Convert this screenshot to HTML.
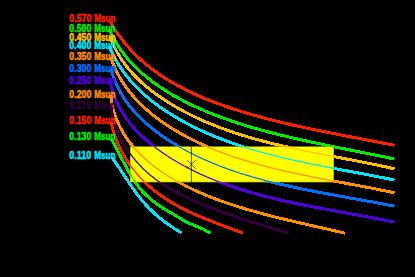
<!DOCTYPE html>
<html><head><meta charset="utf-8"><title>plot</title>
<style>
html,body{margin:0;padding:0;background:#000;}
body{width:415px;height:277px;overflow:hidden;font-family:"Liberation Sans",sans-serif;}
svg{display:block}
text{font-family:"Liberation Sans",sans-serif;font-size:10.2px;font-weight:bold;text-anchor:start;stroke-width:0.5px;stroke-linejoin:round;}
</style></head><body>
<svg width="415" height="277" viewBox="0 0 415 277">
<rect width="415" height="277" fill="#000"/>
<defs><clipPath id="bx"><rect x="130.0" y="146.4" width="204.0" height="35.9"/></clipPath></defs>
<defs><g id="cv" fill="none" stroke-linejoin="round" stroke-linecap="butt">
<path d="M110.4,21.8 L110.9,22.7 L111.4,23.6 L111.9,24.5 L112.5,25.4 L113.0,26.3 L113.5,27.2 L114.1,28.1 L114.6,28.9 L115.2,29.8 L115.7,30.6 L116.3,31.5 L116.9,32.3 L117.4,33.2 L118.0,34.0 L118.6,34.9 L119.2,35.7 L119.8,36.5 L120.4,37.3 L121.0,38.1 L121.6,38.9 L122.2,39.7 L122.8,40.5 L123.4,41.3 L124.1,42.1 L124.7,42.9 L125.3,43.6 L126.0,44.4 L126.6,45.2 L127.3,45.9 L127.9,46.7 L128.6,47.4 L129.2,48.2 L129.9,48.9 L130.6,49.6 L131.2,50.4 L131.9,51.1 L132.6,51.8 L133.3,52.5 L134.0,53.2 L134.7,53.9 L135.4,54.6 L136.1,55.3 L136.8,56.0 L137.5,56.7 L138.2,57.4 L138.9,58.0 L139.7,58.7 L140.4,59.4 L141.1,60.0 L141.8,60.7 L142.6,61.3 L143.3,62.0 L144.1,62.6 L144.8,63.3 L145.6,63.9 L146.3,64.5 L147.1,65.1 L147.8,65.8 L148.6,66.4 L149.4,67.0 L150.2,67.6 L150.9,68.2 L151.7,68.8 L152.5,69.4 L153.3,70.0 L154.1,70.6 L154.9,71.2 L155.7,71.7 L156.5,72.3 L157.3,72.9 L158.1,73.4 L158.9,74.0 L159.7,74.6 L160.5,75.1 L161.3,75.7 L162.1,76.2 L163.0,76.7 L163.8,77.3 L164.6,77.8 L165.4,78.3 L166.3,78.9 L167.1,79.4 L167.9,79.9 L168.8,80.4 L169.6,80.9 L170.5,81.4 L171.3,82.0 L172.2,82.5 L173.0,82.9 L173.9,83.4 L174.8,83.9 L175.6,84.4 L176.5,84.9 L177.3,85.4 L178.2,85.9 L179.1,86.3 L180.0,86.8 L180.8,87.3 L181.7,87.7 L182.6,88.2 L183.5,88.6 L184.4,89.1 L185.2,89.5 L186.1,90.0 L187.0,90.4 L187.9,90.9 L188.8,91.3 L189.7,91.7 L190.6,92.2 L191.5,92.6 L192.4,93.0 L193.3,93.4 L194.2,93.8 L195.1,94.3 L196.0,94.7 L196.9,95.1 L197.9,95.5 L198.8,95.9 L199.7,96.3 L200.6,96.7 L201.5,97.1 L202.4,97.5 L203.4,97.9 L204.3,98.2 L205.2,98.6 L206.1,99.0 L207.1,99.4 L208.0,99.8 L208.9,100.1 L209.9,100.5 L210.8,100.9 L211.7,101.2 L212.7,101.6 L213.6,102.0 L214.6,102.3 L215.5,102.7 L216.4,103.0 L217.4,103.4 L218.3,103.7 L219.3,104.1 L220.2,104.4 L221.2,104.8 L222.1,105.1 L223.1,105.4 L224.0,105.8 L225.0,106.1 L225.9,106.4 L226.9,106.8 L227.8,107.1 L228.8,107.4 L229.7,107.7 L230.7,108.0 L231.7,108.4 L232.6,108.7 L233.6,109.0 L234.5,109.3 L235.5,109.6 L236.4,109.9 L237.4,110.2 L238.4,110.5 L239.3,110.8 L240.3,111.1 L241.3,111.4 L242.2,111.7 L243.2,112.0 L244.2,112.3 L245.1,112.6 L246.1,112.9 L247.1,113.2 L248.0,113.5 L249.0,113.8 L250.0,114.0 L250.9,114.3 L251.9,114.6 L252.9,114.9 L253.8,115.2 L254.8,115.4 L255.8,115.7 L256.7,116.0 L257.7,116.2 L258.7,116.5 L259.7,116.8 L260.6,117.1 L261.6,117.3 L262.6,117.6 L263.6,117.8 L264.5,118.1 L265.5,118.4 L266.5,118.6 L267.5,118.9 L268.4,119.1 L269.4,119.4 L270.4,119.6 L271.4,119.9 L272.4,120.1 L273.3,120.4 L274.3,120.6 L275.3,120.9 L276.3,121.1 L277.2,121.3 L278.2,121.6 L279.2,121.8 L280.2,122.1 L281.2,122.3 L282.2,122.5 L283.1,122.8 L284.1,123.0 L285.1,123.2 L286.1,123.5 L287.1,123.7 L288.0,123.9 L289.0,124.2 L290.0,124.4 L291.0,124.6 L292.0,124.8 L293.0,125.1 L293.9,125.3 L294.9,125.5 L295.9,125.7 L296.9,125.9 L297.9,126.2 L298.9,126.4 L299.8,126.6 L300.8,126.8 L301.8,127.0 L302.8,127.2 L303.8,127.4 L304.8,127.7 L305.8,127.9 L306.7,128.1 L307.7,128.3 L308.7,128.5 L309.7,128.7 L310.7,128.9 L311.7,129.1 L312.6,129.3 L313.6,129.5 L314.6,129.7 L315.6,129.9 L316.6,130.1 L317.6,130.3 L318.6,130.5 L319.5,130.7 L320.5,130.9 L321.5,131.1 L322.5,131.3 L323.5,131.5 L324.5,131.7 L325.4,131.9 L326.4,132.1 L327.4,132.3 L328.4,132.5 L329.4,132.7 L330.4,132.9 L331.4,133.1 L332.3,133.3 L333.3,133.5 L334.3,133.7 L335.3,133.9 L336.3,134.1 L337.3,134.3 L338.2,134.5 L339.2,134.6 L340.2,134.8 L341.2,135.0 L342.2,135.2 L343.2,135.4 L344.1,135.6 L345.1,135.8 L346.1,136.0 L347.1,136.2 L348.1,136.3 L349.0,136.5 L350.0,136.7 L351.0,136.9 L352.0,137.1 L353.0,137.3 L353.9,137.5 L354.9,137.7 L355.9,137.8 L356.9,138.0 L357.8,138.2 L358.8,138.4 L359.8,138.6 L360.8,138.8 L361.8,139.0 L362.7,139.1 L363.7,139.3 L364.7,139.5 L365.7,139.7 L366.6,139.9 L367.6,140.1 L368.6,140.3 L369.5,140.4 L370.5,140.6 L371.5,140.8 L372.5,141.0 L373.4,141.2 L374.4,141.4 L375.4,141.6 L376.3,141.8 L377.3,141.9 L378.3,142.1 L379.3,142.3 L380.2,142.5 L381.2,142.7 L382.2,142.9 L383.1,143.1 L384.1,143.3 L385.1,143.4 L386.0,143.6 L387.0,143.8 L387.9,144.0 L388.9,144.2 L389.9,144.4 L390.8,144.6 L391.8,144.8 L392.8,145.0 L393.7,145.2 L394.5,145.3" stroke="#ff2000"/>
<path d="M109.5,29.5 L109.9,30.4 L110.3,31.3 L110.7,32.3 L111.1,33.2 L111.6,34.1 L112.0,35.0 L112.5,36.0 L112.9,36.9 L113.4,37.8 L113.9,38.7 L114.4,39.6 L114.9,40.4 L115.4,41.3 L115.9,42.2 L116.4,43.0 L116.9,43.9 L117.4,44.8 L118.0,45.6 L118.5,46.4 L119.1,47.3 L119.6,48.1 L120.2,48.9 L120.8,49.8 L121.3,50.6 L121.9,51.4 L122.5,52.2 L123.1,53.0 L123.7,53.8 L124.3,54.6 L124.9,55.4 L125.5,56.1 L126.2,56.9 L126.8,57.7 L127.4,58.4 L128.1,59.2 L128.7,59.9 L129.4,60.7 L130.0,61.4 L130.7,62.2 L131.4,62.9 L132.1,63.6 L132.7,64.3 L133.4,65.0 L134.1,65.8 L134.8,66.5 L135.5,67.2 L136.2,67.9 L137.0,68.6 L137.7,69.2 L138.4,69.9 L139.1,70.6 L139.9,71.3 L140.6,71.9 L141.3,72.6 L142.1,73.3 L142.8,73.9 L143.6,74.6 L144.3,75.2 L145.1,75.8 L145.9,76.5 L146.6,77.1 L147.4,77.7 L148.2,78.4 L149.0,79.0 L149.8,79.6 L150.6,80.2 L151.3,80.8 L152.1,81.4 L152.9,82.0 L153.7,82.6 L154.5,83.2 L155.4,83.8 L156.2,84.3 L157.0,84.9 L157.8,85.5 L158.6,86.0 L159.4,86.6 L160.3,87.2 L161.1,87.7 L161.9,88.3 L162.8,88.8 L163.6,89.4 L164.4,89.9 L165.3,90.4 L166.1,91.0 L167.0,91.5 L167.8,92.0 L168.7,92.5 L169.5,93.0 L170.4,93.6 L171.2,94.1 L172.1,94.6 L172.9,95.1 L173.8,95.6 L174.7,96.1 L175.5,96.6 L176.4,97.0 L177.3,97.5 L178.1,98.0 L179.0,98.5 L179.9,99.0 L180.7,99.4 L181.6,99.9 L182.5,100.3 L183.4,100.8 L184.3,101.3 L185.1,101.7 L186.0,102.2 L186.9,102.6 L187.8,103.1 L188.7,103.5 L189.6,103.9 L190.5,104.4 L191.4,104.8 L192.2,105.2 L193.1,105.7 L194.0,106.1 L194.9,106.5 L195.8,106.9 L196.7,107.3 L197.6,107.7 L198.5,108.1 L199.4,108.5 L200.4,108.9 L201.3,109.3 L202.2,109.7 L203.1,110.1 L204.0,110.5 L204.9,110.9 L205.8,111.3 L206.7,111.7 L207.7,112.1 L208.6,112.4 L209.5,112.8 L210.4,113.2 L211.3,113.5 L212.3,113.9 L213.2,114.3 L214.1,114.6 L215.0,115.0 L216.0,115.4 L216.9,115.7 L217.8,116.1 L218.8,116.4 L219.7,116.8 L220.6,117.1 L221.6,117.5 L222.5,117.8 L223.4,118.1 L224.4,118.5 L225.3,118.8 L226.2,119.1 L227.2,119.5 L228.1,119.8 L229.1,120.1 L230.0,120.4 L231.0,120.8 L231.9,121.1 L232.9,121.4 L233.8,121.7 L234.8,122.0 L235.7,122.3 L236.7,122.7 L237.6,123.0 L238.6,123.3 L239.5,123.6 L240.5,123.9 L241.4,124.2 L242.4,124.5 L243.3,124.8 L244.3,125.1 L245.3,125.4 L246.2,125.7 L247.2,126.0 L248.1,126.2 L249.1,126.5 L250.1,126.8 L251.0,127.1 L252.0,127.4 L253.0,127.7 L253.9,127.9 L254.9,128.2 L255.9,128.5 L256.8,128.8 L257.8,129.0 L258.8,129.3 L259.7,129.6 L260.7,129.9 L261.7,130.1 L262.7,130.4 L263.6,130.7 L264.6,130.9 L265.6,131.2 L266.5,131.4 L267.5,131.7 L268.5,132.0 L269.5,132.2 L270.4,132.5 L271.4,132.7 L272.4,133.0 L273.4,133.2 L274.4,133.5 L275.3,133.7 L276.3,134.0 L277.3,134.2 L278.3,134.5 L279.3,134.7 L280.2,135.0 L281.2,135.2 L282.2,135.4 L283.2,135.7 L284.2,135.9 L285.2,136.1 L286.1,136.4 L287.1,136.6 L288.1,136.8 L289.1,137.1 L290.1,137.3 L291.1,137.5 L292.0,137.8 L293.0,138.0 L294.0,138.2 L295.0,138.5 L296.0,138.7 L297.0,138.9 L298.0,139.1 L299.0,139.3 L299.9,139.6 L300.9,139.8 L301.9,140.0 L302.9,140.2 L303.9,140.4 L304.9,140.7 L305.9,140.9 L306.9,141.1 L307.8,141.3 L308.8,141.5 L309.8,141.7 L310.8,142.0 L311.8,142.2 L312.8,142.4 L313.8,142.6 L314.8,142.8 L315.8,143.0 L316.7,143.2 L317.7,143.4 L318.7,143.6 L319.7,143.8 L320.7,144.0 L321.7,144.2 L322.7,144.5 L323.7,144.7 L324.7,144.9 L325.6,145.1 L326.6,145.3 L327.6,145.5 L328.6,145.7 L329.6,145.9 L330.6,146.1 L331.6,146.3 L332.6,146.5 L333.5,146.7 L334.5,146.9 L335.5,147.1 L336.5,147.3 L337.5,147.5 L338.5,147.7 L339.5,147.9 L340.4,148.1 L341.4,148.3 L342.4,148.5 L343.4,148.7 L344.4,148.9 L345.4,149.0 L346.3,149.2 L347.3,149.4 L348.3,149.6 L349.3,149.8 L350.3,150.0 L351.3,150.2 L352.2,150.4 L353.2,150.6 L354.2,150.8 L355.2,151.0 L356.2,151.2 L357.1,151.4 L358.1,151.6 L359.1,151.8 L360.1,152.0 L361.0,152.2 L362.0,152.4 L363.0,152.6 L364.0,152.8 L364.9,153.0 L365.9,153.1 L366.9,153.3 L367.9,153.5 L368.8,153.7 L369.8,153.9 L370.8,154.1 L371.7,154.3 L372.7,154.5 L373.7,154.7 L374.7,154.9 L375.6,155.1 L376.6,155.3 L377.6,155.5 L378.5,155.7 L379.5,155.9 L380.4,156.1 L381.4,156.3 L382.4,156.5 L383.3,156.7 L384.3,156.9 L385.3,157.1 L386.2,157.3 L387.2,157.5 L388.1,157.7 L389.1,157.9 L390.0,158.1 L391.0,158.3 L391.9,158.5 L392.9,158.7 L393.9,158.9 L394.5,159.1" stroke="#00f000"/>
<path d="M110.2,36.1 L110.5,37.1 L110.8,38.0 L111.1,39.0 L111.5,39.9 L111.8,40.9 L112.2,41.8 L112.6,42.7 L113.0,43.6 L113.4,44.5 L113.8,45.4 L114.2,46.3 L114.6,47.2 L115.0,48.1 L115.5,49.0 L115.9,49.9 L116.4,50.8 L116.8,51.6 L117.3,52.5 L117.8,53.3 L118.3,54.2 L118.8,55.0 L119.3,55.9 L119.8,56.7 L120.3,57.6 L120.8,58.4 L121.4,59.2 L121.9,60.0 L122.5,60.8 L123.0,61.6 L123.6,62.4 L124.2,63.2 L124.7,64.0 L125.3,64.8 L125.9,65.6 L126.5,66.4 L127.1,67.1 L127.8,67.9 L128.4,68.7 L129.0,69.4 L129.7,70.2 L130.3,70.9 L131.0,71.7 L131.6,72.4 L132.3,73.1 L132.9,73.9 L133.6,74.6 L134.3,75.3 L135.0,76.0 L135.7,76.7 L136.4,77.4 L137.1,78.1 L137.8,78.8 L138.5,79.5 L139.2,80.2 L139.9,80.9 L140.7,81.6 L141.4,82.3 L142.1,82.9 L142.9,83.6 L143.6,84.2 L144.4,84.9 L145.2,85.6 L145.9,86.2 L146.7,86.8 L147.5,87.5 L148.2,88.1 L149.0,88.8 L149.8,89.4 L150.6,90.0 L151.4,90.6 L152.2,91.2 L153.0,91.8 L153.8,92.4 L154.6,93.0 L155.4,93.6 L156.2,94.2 L157.0,94.8 L157.8,95.4 L158.7,96.0 L159.5,96.6 L160.3,97.1 L161.2,97.7 L162.0,98.3 L162.8,98.8 L163.7,99.4 L164.5,99.9 L165.4,100.5 L166.2,101.0 L167.0,101.6 L167.9,102.1 L168.8,102.7 L169.6,103.2 L170.5,103.7 L171.3,104.2 L172.2,104.8 L173.0,105.3 L173.9,105.8 L174.8,106.3 L175.6,106.8 L176.5,107.3 L177.4,107.8 L178.2,108.3 L179.1,108.8 L180.0,109.3 L180.9,109.8 L181.7,110.2 L182.6,110.7 L183.5,111.2 L184.4,111.7 L185.3,112.1 L186.2,112.6 L187.0,113.0 L187.9,113.5 L188.8,113.9 L189.7,114.4 L190.6,114.8 L191.5,115.3 L192.4,115.7 L193.3,116.2 L194.2,116.6 L195.1,117.0 L196.0,117.5 L196.9,117.9 L197.8,118.3 L198.7,118.7 L199.6,119.1 L200.5,119.6 L201.4,120.0 L202.3,120.4 L203.2,120.8 L204.2,121.2 L205.1,121.6 L206.0,122.0 L206.9,122.4 L207.8,122.7 L208.7,123.1 L209.7,123.5 L210.6,123.9 L211.5,124.3 L212.4,124.6 L213.4,125.0 L214.3,125.4 L215.2,125.8 L216.1,126.1 L217.1,126.5 L218.0,126.8 L218.9,127.2 L219.9,127.5 L220.8,127.9 L221.7,128.2 L222.7,128.6 L223.6,128.9 L224.6,129.3 L225.5,129.6 L226.4,129.9 L227.4,130.3 L228.3,130.6 L229.3,130.9 L230.2,131.3 L231.2,131.6 L232.1,131.9 L233.0,132.2 L234.0,132.5 L234.9,132.9 L235.9,133.2 L236.8,133.5 L237.8,133.8 L238.7,134.1 L239.7,134.4 L240.7,134.7 L241.6,135.0 L242.6,135.3 L243.5,135.6 L244.5,135.9 L245.4,136.2 L246.4,136.5 L247.4,136.8 L248.3,137.0 L249.3,137.3 L250.2,137.6 L251.2,137.9 L252.2,138.2 L253.1,138.4 L254.1,138.7 L255.1,139.0 L256.0,139.2 L257.0,139.5 L258.0,139.8 L258.9,140.0 L259.9,140.3 L260.9,140.6 L261.9,140.8 L262.8,141.1 L263.8,141.3 L264.8,141.6 L265.7,141.8 L266.7,142.1 L267.7,142.4 L268.7,142.6 L269.6,142.8 L270.6,143.1 L271.6,143.3 L272.6,143.6 L273.5,143.8 L274.5,144.1 L275.5,144.3 L276.5,144.5 L277.5,144.8 L278.4,145.0 L279.4,145.2 L280.4,145.5 L281.4,145.7 L282.4,145.9 L283.3,146.1 L284.3,146.4 L285.3,146.6 L286.3,146.8 L287.3,147.0 L288.3,147.3 L289.2,147.5 L290.2,147.7 L291.2,147.9 L292.2,148.1 L293.2,148.3 L294.2,148.6 L295.1,148.8 L296.1,149.0 L297.1,149.2 L298.1,149.4 L299.1,149.6 L300.1,149.8 L301.1,150.0 L302.1,150.2 L303.0,150.4 L304.0,150.7 L305.0,150.9 L306.0,151.1 L307.0,151.3 L308.0,151.5 L309.0,151.7 L309.9,151.9 L310.9,152.1 L311.9,152.3 L312.9,152.5 L313.9,152.7 L314.9,152.9 L315.9,153.1 L316.9,153.3 L317.8,153.5 L318.8,153.6 L319.8,153.8 L320.8,154.0 L321.8,154.2 L322.8,154.4 L323.8,154.6 L324.8,154.8 L325.7,155.0 L326.7,155.2 L327.7,155.4 L328.7,155.6 L329.7,155.8 L330.7,156.0 L331.7,156.1 L332.7,156.3 L333.6,156.5 L334.6,156.7 L335.6,156.9 L336.6,157.1 L337.6,157.3 L338.6,157.5 L339.6,157.7 L340.5,157.9 L341.5,158.0 L342.5,158.2 L343.5,158.4 L344.5,158.6 L345.5,158.8 L346.4,159.0 L347.4,159.2 L348.4,159.4 L349.4,159.6 L350.4,159.7 L351.3,159.9 L352.3,160.1 L353.3,160.3 L354.3,160.5 L355.3,160.7 L356.2,160.9 L357.2,161.1 L358.2,161.3 L359.2,161.5 L360.1,161.7 L361.1,161.9 L362.1,162.0 L363.1,162.2 L364.0,162.4 L365.0,162.6 L366.0,162.8 L367.0,163.0 L367.9,163.2 L368.9,163.4 L369.9,163.6 L370.9,163.8 L371.8,164.0 L372.8,164.2 L373.8,164.4 L374.7,164.6 L375.7,164.8 L376.7,165.0 L377.6,165.2 L378.6,165.4 L379.6,165.6 L380.5,165.8 L381.5,166.0 L382.5,166.2 L383.4,166.4 L384.4,166.6 L385.3,166.8 L386.3,167.0 L387.3,167.3 L388.2,167.5 L389.2,167.7 L390.1,167.9 L391.1,168.1 L392.0,168.3 L393.0,168.5 L393.9,168.8 L394.5,168.9" stroke="#ffc000"/>
<path d="M109.3,46.1 L109.7,47.0 L110.0,48.0 L110.4,48.9 L110.8,49.8 L111.2,50.8 L111.7,51.7 L112.1,52.6 L112.5,53.5 L112.9,54.4 L113.4,55.3 L113.8,56.2 L114.3,57.1 L114.8,58.0 L115.2,58.8 L115.7,59.7 L116.2,60.6 L116.7,61.4 L117.2,62.3 L117.7,63.1 L118.2,64.0 L118.8,64.8 L119.3,65.7 L119.8,66.5 L120.4,67.3 L120.9,68.2 L121.5,69.0 L122.0,69.8 L122.6,70.6 L123.2,71.4 L123.7,72.2 L124.3,73.0 L124.9,73.8 L125.5,74.6 L126.1,75.4 L126.7,76.1 L127.3,76.9 L128.0,77.7 L128.6,78.4 L129.2,79.2 L129.9,79.9 L130.5,80.7 L131.2,81.4 L131.8,82.2 L132.5,82.9 L133.1,83.6 L133.8,84.4 L134.5,85.1 L135.2,85.8 L135.8,86.5 L136.5,87.2 L137.2,87.9 L137.9,88.6 L138.6,89.3 L139.4,90.0 L140.1,90.7 L140.8,91.4 L141.5,92.1 L142.2,92.7 L143.0,93.4 L143.7,94.1 L144.4,94.7 L145.2,95.4 L145.9,96.0 L146.7,96.7 L147.5,97.3 L148.2,98.0 L149.0,98.6 L149.8,99.2 L150.5,99.9 L151.3,100.5 L152.1,101.1 L152.9,101.7 L153.7,102.3 L154.5,102.9 L155.3,103.5 L156.1,104.1 L156.9,104.7 L157.7,105.3 L158.5,105.9 L159.3,106.5 L160.1,107.1 L160.9,107.7 L161.7,108.2 L162.6,108.8 L163.4,109.4 L164.2,109.9 L165.1,110.5 L165.9,111.0 L166.7,111.6 L167.6,112.1 L168.4,112.7 L169.3,113.2 L170.1,113.8 L171.0,114.3 L171.8,114.8 L172.7,115.4 L173.5,115.9 L174.4,116.4 L175.3,116.9 L176.1,117.4 L177.0,117.9 L177.9,118.4 L178.7,118.9 L179.6,119.4 L180.5,119.9 L181.3,120.4 L182.2,120.9 L183.1,121.4 L184.0,121.9 L184.9,122.4 L185.7,122.8 L186.6,123.3 L187.5,123.8 L188.4,124.2 L189.3,124.7 L190.2,125.1 L191.1,125.6 L192.0,126.1 L192.9,126.5 L193.8,127.0 L194.6,127.4 L195.5,127.8 L196.4,128.3 L197.3,128.7 L198.2,129.1 L199.2,129.6 L200.1,130.0 L201.0,130.4 L201.9,130.8 L202.8,131.2 L203.7,131.7 L204.6,132.1 L205.5,132.5 L206.4,132.9 L207.3,133.3 L208.3,133.7 L209.2,134.1 L210.1,134.5 L211.0,134.9 L211.9,135.2 L212.8,135.6 L213.8,136.0 L214.7,136.4 L215.6,136.8 L216.5,137.1 L217.5,137.5 L218.4,137.9 L219.3,138.2 L220.3,138.6 L221.2,139.0 L222.1,139.3 L223.1,139.7 L224.0,140.0 L224.9,140.4 L225.9,140.7 L226.8,141.1 L227.7,141.4 L228.7,141.8 L229.6,142.1 L230.6,142.4 L231.5,142.8 L232.4,143.1 L233.4,143.4 L234.3,143.8 L235.3,144.1 L236.2,144.4 L237.2,144.7 L238.1,145.1 L239.1,145.4 L240.0,145.7 L241.0,146.0 L241.9,146.3 L242.9,146.6 L243.8,146.9 L244.8,147.2 L245.7,147.5 L246.7,147.8 L247.7,148.1 L248.6,148.4 L249.6,148.7 L250.5,149.0 L251.5,149.3 L252.5,149.6 L253.4,149.9 L254.4,150.1 L255.3,150.4 L256.3,150.7 L257.3,151.0 L258.2,151.3 L259.2,151.5 L260.2,151.8 L261.1,152.1 L262.1,152.3 L263.1,152.6 L264.0,152.9 L265.0,153.1 L266.0,153.4 L266.9,153.7 L267.9,153.9 L268.9,154.2 L269.9,154.4 L270.8,154.7 L271.8,154.9 L272.8,155.2 L273.7,155.4 L274.7,155.7 L275.7,155.9 L276.7,156.2 L277.6,156.4 L278.6,156.6 L279.6,156.9 L280.6,157.1 L281.6,157.4 L282.5,157.6 L283.5,157.8 L284.5,158.1 L285.5,158.3 L286.5,158.5 L287.4,158.8 L288.4,159.0 L289.4,159.2 L290.4,159.4 L291.4,159.7 L292.3,159.9 L293.3,160.1 L294.3,160.3 L295.3,160.5 L296.3,160.8 L297.2,161.0 L298.2,161.2 L299.2,161.4 L300.2,161.6 L301.2,161.8 L302.2,162.0 L303.2,162.2 L304.1,162.5 L305.1,162.7 L306.1,162.9 L307.1,163.1 L308.1,163.3 L309.1,163.5 L310.0,163.7 L311.0,163.9 L312.0,164.1 L313.0,164.3 L314.0,164.5 L315.0,164.7 L316.0,164.9 L316.9,165.1 L317.9,165.3 L318.9,165.5 L319.9,165.7 L320.9,165.9 L321.9,166.1 L322.9,166.3 L323.9,166.5 L324.8,166.7 L325.8,166.9 L326.8,167.0 L327.8,167.2 L328.8,167.4 L329.8,167.6 L330.8,167.8 L331.7,168.0 L332.7,168.2 L333.7,168.4 L334.7,168.6 L335.7,168.8 L336.7,168.9 L337.7,169.1 L338.6,169.3 L339.6,169.5 L340.6,169.7 L341.6,169.9 L342.6,170.1 L343.6,170.2 L344.5,170.4 L345.5,170.6 L346.5,170.8 L347.5,171.0 L348.5,171.2 L349.5,171.4 L350.4,171.5 L351.4,171.7 L352.4,171.9 L353.4,172.1 L354.4,172.3 L355.4,172.5 L356.3,172.6 L357.3,172.8 L358.3,173.0 L359.3,173.2 L360.3,173.4 L361.2,173.6 L362.2,173.7 L363.2,173.9 L364.2,174.1 L365.1,174.3 L366.1,174.5 L367.1,174.7 L368.1,174.8 L369.0,175.0 L370.0,175.2 L371.0,175.4 L372.0,175.6 L372.9,175.8 L373.9,176.0 L374.9,176.2 L375.9,176.3 L376.8,176.5 L377.8,176.7 L378.8,176.9 L379.7,177.1 L380.7,177.3 L381.7,177.5 L382.6,177.7 L383.6,177.9 L384.6,178.0 L385.5,178.2 L386.5,178.4 L387.5,178.6 L388.4,178.8 L389.4,179.0 L390.4,179.2 L391.3,179.4 L392.3,179.6 L393.2,179.8 L394.2,180.0 L394.5,180.1" stroke="#00e8ff"/>
<path d="M110.8,57.1 L111.1,58.0 L111.5,59.0 L111.8,60.0 L112.1,60.9 L112.5,61.9 L112.8,62.8 L113.2,63.8 L113.6,64.7 L114.0,65.7 L114.4,66.6 L114.8,67.5 L115.2,68.4 L115.6,69.3 L116.0,70.3 L116.5,71.2 L116.9,72.0 L117.4,72.9 L117.8,73.8 L118.3,74.7 L118.8,75.6 L119.2,76.4 L119.7,77.3 L120.2,78.2 L120.7,79.0 L121.2,79.9 L121.7,80.7 L122.3,81.6 L122.8,82.4 L123.3,83.2 L123.9,84.0 L124.4,84.9 L125.0,85.7 L125.5,86.5 L126.1,87.3 L126.7,88.1 L127.3,88.9 L127.9,89.7 L128.5,90.4 L129.1,91.2 L129.7,92.0 L130.3,92.8 L130.9,93.5 L131.5,94.3 L132.2,95.0 L132.8,95.8 L133.5,96.5 L134.1,97.3 L134.8,98.0 L135.4,98.7 L136.1,99.5 L136.8,100.2 L137.4,100.9 L138.1,101.6 L138.8,102.3 L139.5,103.0 L140.2,103.7 L140.9,104.4 L141.6,105.1 L142.3,105.8 L143.0,106.5 L143.8,107.1 L144.5,107.8 L145.2,108.5 L146.0,109.1 L146.7,109.8 L147.5,110.4 L148.2,111.1 L149.0,111.7 L149.7,112.4 L150.5,113.0 L151.3,113.6 L152.0,114.3 L152.8,114.9 L153.6,115.5 L154.4,116.1 L155.1,116.7 L155.9,117.4 L156.7,118.0 L157.5,118.6 L158.3,119.1 L159.1,119.7 L159.9,120.3 L160.8,120.9 L161.6,121.5 L162.4,122.1 L163.2,122.6 L164.0,123.2 L164.9,123.8 L165.7,124.3 L166.5,124.9 L167.4,125.4 L168.2,126.0 L169.1,126.5 L169.9,127.1 L170.7,127.6 L171.6,128.1 L172.4,128.7 L173.3,129.2 L174.2,129.7 L175.0,130.2 L175.9,130.7 L176.7,131.2 L177.6,131.7 L178.5,132.2 L179.3,132.7 L180.2,133.2 L181.1,133.7 L182.0,134.2 L182.8,134.7 L183.7,135.2 L184.6,135.7 L185.5,136.1 L186.4,136.6 L187.2,137.1 L188.1,137.6 L189.0,138.0 L189.9,138.5 L190.8,138.9 L191.7,139.4 L192.6,139.8 L193.5,140.3 L194.4,140.7 L195.3,141.1 L196.2,141.6 L197.1,142.0 L198.0,142.4 L198.9,142.9 L199.8,143.3 L200.7,143.7 L201.6,144.1 L202.5,144.5 L203.4,145.0 L204.3,145.4 L205.2,145.8 L206.1,146.2 L207.1,146.6 L208.0,147.0 L208.9,147.4 L209.8,147.7 L210.7,148.1 L211.6,148.5 L212.6,148.9 L213.5,149.3 L214.4,149.7 L215.3,150.0 L216.3,150.4 L217.2,150.8 L218.1,151.1 L219.1,151.5 L220.0,151.8 L220.9,152.2 L221.9,152.6 L222.8,152.9 L223.7,153.3 L224.7,153.6 L225.6,154.0 L226.5,154.3 L227.5,154.6 L228.4,155.0 L229.4,155.3 L230.3,155.6 L231.2,156.0 L232.2,156.3 L233.1,156.6 L234.1,156.9 L235.0,157.3 L236.0,157.6 L236.9,157.9 L237.9,158.2 L238.8,158.5 L239.8,158.8 L240.7,159.1 L241.7,159.4 L242.6,159.7 L243.6,160.0 L244.5,160.3 L245.5,160.6 L246.5,160.9 L247.4,161.2 L248.4,161.5 L249.3,161.8 L250.3,162.1 L251.3,162.3 L252.2,162.6 L253.2,162.9 L254.1,163.2 L255.1,163.5 L256.1,163.7 L257.0,164.0 L258.0,164.3 L259.0,164.5 L259.9,164.8 L260.9,165.1 L261.9,165.3 L262.9,165.6 L263.8,165.8 L264.8,166.1 L265.8,166.4 L266.7,166.6 L267.7,166.9 L268.7,167.1 L269.7,167.4 L270.6,167.6 L271.6,167.9 L272.6,168.1 L273.6,168.3 L274.5,168.6 L275.5,168.8 L276.5,169.1 L277.5,169.3 L278.4,169.5 L279.4,169.8 L280.4,170.0 L281.4,170.2 L282.4,170.5 L283.3,170.7 L284.3,170.9 L285.3,171.1 L286.3,171.4 L287.3,171.6 L288.2,171.8 L289.2,172.0 L290.2,172.2 L291.2,172.5 L292.2,172.7 L293.2,172.9 L294.1,173.1 L295.1,173.3 L296.1,173.5 L297.1,173.7 L298.1,174.0 L299.1,174.2 L300.1,174.4 L301.0,174.6 L302.0,174.8 L303.0,175.0 L304.0,175.2 L305.0,175.4 L306.0,175.6 L307.0,175.8 L307.9,176.0 L308.9,176.2 L309.9,176.4 L310.9,176.6 L311.9,176.8 L312.9,177.0 L313.9,177.2 L314.9,177.4 L315.8,177.6 L316.8,177.8 L317.8,178.0 L318.8,178.2 L319.8,178.4 L320.8,178.6 L321.8,178.7 L322.8,178.9 L323.7,179.1 L324.7,179.3 L325.7,179.5 L326.7,179.7 L327.7,179.9 L328.7,180.1 L329.7,180.3 L330.6,180.4 L331.6,180.6 L332.6,180.8 L333.6,181.0 L334.6,181.2 L335.6,181.4 L336.6,181.6 L337.6,181.7 L338.5,181.9 L339.5,182.1 L340.5,182.3 L341.5,182.5 L342.5,182.7 L343.5,182.9 L344.4,183.0 L345.4,183.2 L346.4,183.4 L347.4,183.6 L348.4,183.8 L349.4,184.0 L350.3,184.1 L351.3,184.3 L352.3,184.5 L353.3,184.7 L354.3,184.9 L355.2,185.1 L356.2,185.2 L357.2,185.4 L358.2,185.6 L359.2,185.8 L360.1,186.0 L361.1,186.2 L362.1,186.4 L363.1,186.5 L364.0,186.7 L365.0,186.9 L366.0,187.1 L367.0,187.3 L367.9,187.5 L368.9,187.7 L369.9,187.9 L370.9,188.0 L371.8,188.2 L372.8,188.4 L373.8,188.6 L374.7,188.8 L375.7,189.0 L376.7,189.2 L377.7,189.4 L378.6,189.6 L379.6,189.8 L380.6,190.0 L381.5,190.2 L382.5,190.4 L383.5,190.5 L384.4,190.7 L385.4,190.9 L386.3,191.1 L387.3,191.3 L388.3,191.5 L389.2,191.7 L390.2,191.9 L391.1,192.1 L392.1,192.4 L393.1,192.6 L394.0,192.8 L394.5,192.9" stroke="#ff9000"/>
<path d="M110.8,68.6 L111.1,69.6 L111.3,70.5 L111.6,71.5 L111.9,72.5 L112.2,73.5 L112.5,74.4 L112.8,75.4 L113.2,76.4 L113.5,77.3 L113.9,78.3 L114.2,79.2 L114.6,80.1 L115.0,81.1 L115.4,82.0 L115.7,82.9 L116.1,83.8 L116.6,84.7 L117.0,85.6 L117.4,86.5 L117.8,87.4 L118.3,88.3 L118.7,89.2 L119.2,90.0 L119.7,90.9 L120.1,91.8 L120.6,92.6 L121.1,93.5 L121.6,94.3 L122.1,95.2 L122.7,96.0 L123.2,96.8 L123.7,97.7 L124.2,98.5 L124.8,99.3 L125.3,100.1 L125.9,100.9 L126.5,101.7 L127.0,102.5 L127.6,103.3 L128.2,104.1 L128.8,104.9 L129.4,105.7 L130.0,106.4 L130.6,107.2 L131.3,108.0 L131.9,108.7 L132.5,109.5 L133.2,110.2 L133.8,111.0 L134.5,111.7 L135.1,112.4 L135.8,113.2 L136.4,113.9 L137.1,114.6 L137.8,115.3 L138.5,116.1 L139.2,116.8 L139.9,117.5 L140.6,118.2 L141.3,118.9 L142.0,119.5 L142.7,120.2 L143.5,120.9 L144.2,121.6 L144.9,122.3 L145.7,122.9 L146.4,123.6 L147.1,124.2 L147.9,124.9 L148.7,125.5 L149.4,126.2 L150.2,126.8 L151.0,127.5 L151.7,128.1 L152.5,128.7 L153.3,129.4 L154.1,130.0 L154.9,130.6 L155.7,131.2 L156.5,131.8 L157.3,132.4 L158.1,133.0 L158.9,133.6 L159.7,134.2 L160.5,134.8 L161.3,135.4 L162.1,135.9 L163.0,136.5 L163.8,137.1 L164.6,137.7 L165.5,138.2 L166.3,138.8 L167.1,139.3 L168.0,139.9 L168.8,140.4 L169.7,141.0 L170.5,141.5 L171.4,142.1 L172.2,142.6 L173.1,143.1 L173.9,143.6 L174.8,144.2 L175.7,144.7 L176.5,145.2 L177.4,145.7 L178.3,146.2 L179.1,146.7 L180.0,147.2 L180.9,147.7 L181.8,148.2 L182.6,148.7 L183.5,149.2 L184.4,149.7 L185.3,150.1 L186.2,150.6 L187.0,151.1 L187.9,151.6 L188.8,152.0 L189.7,152.5 L190.6,152.9 L191.5,153.4 L192.4,153.8 L193.3,154.3 L194.2,154.7 L195.0,155.2 L195.9,155.6 L196.8,156.1 L197.7,156.5 L198.6,156.9 L199.5,157.3 L200.5,157.8 L201.4,158.2 L202.3,158.6 L203.2,159.0 L204.1,159.4 L205.0,159.8 L205.9,160.2 L206.8,160.6 L207.7,161.0 L208.6,161.4 L209.6,161.8 L210.5,162.2 L211.4,162.6 L212.3,163.0 L213.2,163.4 L214.2,163.7 L215.1,164.1 L216.0,164.5 L216.9,164.9 L217.9,165.2 L218.8,165.6 L219.7,166.0 L220.7,166.3 L221.6,166.7 L222.5,167.0 L223.5,167.4 L224.4,167.7 L225.3,168.1 L226.3,168.4 L227.2,168.8 L228.1,169.1 L229.1,169.4 L230.0,169.8 L231.0,170.1 L231.9,170.4 L232.8,170.7 L233.8,171.1 L234.7,171.4 L235.7,171.7 L236.6,172.0 L237.6,172.3 L238.5,172.6 L239.5,173.0 L240.4,173.3 L241.4,173.6 L242.3,173.9 L243.3,174.2 L244.2,174.5 L245.2,174.8 L246.2,175.1 L247.1,175.4 L248.1,175.6 L249.0,175.9 L250.0,176.2 L251.0,176.5 L251.9,176.8 L252.9,177.1 L253.8,177.3 L254.8,177.6 L255.8,177.9 L256.7,178.2 L257.7,178.4 L258.7,178.7 L259.6,179.0 L260.6,179.2 L261.6,179.5 L262.5,179.7 L263.5,180.0 L264.5,180.3 L265.4,180.5 L266.4,180.8 L267.4,181.0 L268.4,181.3 L269.3,181.5 L270.3,181.8 L271.3,182.0 L272.3,182.2 L273.2,182.5 L274.2,182.7 L275.2,183.0 L276.2,183.2 L277.1,183.4 L278.1,183.7 L279.1,183.9 L280.1,184.1 L281.0,184.4 L282.0,184.6 L283.0,184.8 L284.0,185.0 L285.0,185.3 L285.9,185.5 L286.9,185.7 L287.9,185.9 L288.9,186.1 L289.9,186.4 L290.9,186.6 L291.8,186.8 L292.8,187.0 L293.8,187.2 L294.8,187.4 L295.8,187.6 L296.8,187.8 L297.7,188.1 L298.7,188.3 L299.7,188.5 L300.7,188.7 L301.7,188.9 L302.7,189.1 L303.7,189.3 L304.7,189.5 L305.6,189.7 L306.6,189.9 L307.6,190.1 L308.6,190.3 L309.6,190.5 L310.6,190.7 L311.6,190.9 L312.6,191.0 L313.5,191.2 L314.5,191.4 L315.5,191.6 L316.5,191.8 L317.5,192.0 L318.5,192.2 L319.5,192.4 L320.5,192.6 L321.4,192.7 L322.4,192.9 L323.4,193.1 L324.4,193.3 L325.4,193.5 L326.4,193.7 L327.4,193.9 L328.4,194.0 L329.4,194.2 L330.3,194.4 L331.3,194.6 L332.3,194.8 L333.3,194.9 L334.3,195.1 L335.3,195.3 L336.3,195.5 L337.3,195.7 L338.3,195.8 L339.2,196.0 L340.2,196.2 L341.2,196.4 L342.2,196.5 L343.2,196.7 L344.2,196.9 L345.2,197.1 L346.2,197.3 L347.1,197.4 L348.1,197.6 L349.1,197.8 L350.1,198.0 L351.1,198.1 L352.1,198.3 L353.0,198.5 L354.0,198.7 L355.0,198.8 L356.0,199.0 L357.0,199.2 L358.0,199.4 L358.9,199.5 L359.9,199.7 L360.9,199.9 L361.9,200.1 L362.9,200.3 L363.9,200.4 L364.8,200.6 L365.8,200.8 L366.8,201.0 L367.8,201.1 L368.8,201.3 L369.7,201.5 L370.7,201.7 L371.7,201.9 L372.7,202.0 L373.6,202.2 L374.6,202.4 L375.6,202.6 L376.6,202.8 L377.5,202.9 L378.5,203.1 L379.5,203.3 L380.5,203.5 L381.4,203.7 L382.4,203.9 L383.4,204.1 L384.3,204.2 L385.3,204.4 L386.3,204.6 L387.2,204.8 L388.2,205.0 L389.2,205.2 L390.1,205.4 L391.1,205.6 L392.1,205.8 L393.0,205.9 L394.0,206.1 L394.5,206.2" stroke="#0070ff"/>
<path d="M110.0,80.5 L110.2,81.5 L110.4,82.6 L110.6,83.6 L110.8,84.6 L111.1,85.6 L111.3,86.6 L111.6,87.6 L111.8,88.5 L112.1,89.5 L112.4,90.5 L112.7,91.5 L113.0,92.4 L113.3,93.4 L113.7,94.3 L114.0,95.3 L114.3,96.2 L114.7,97.1 L115.1,98.1 L115.4,99.0 L115.8,99.9 L116.2,100.8 L116.6,101.7 L117.0,102.6 L117.5,103.5 L117.9,104.4 L118.3,105.3 L118.8,106.1 L119.2,107.0 L119.7,107.9 L120.2,108.7 L120.7,109.6 L121.2,110.4 L121.7,111.3 L122.2,112.1 L122.7,113.0 L123.2,113.8 L123.7,114.6 L124.3,115.4 L124.8,116.3 L125.4,117.1 L125.9,117.9 L126.5,118.7 L127.1,119.5 L127.7,120.3 L128.3,121.0 L128.9,121.8 L129.5,122.6 L130.1,123.4 L130.7,124.1 L131.3,124.9 L132.0,125.6 L132.6,126.4 L133.2,127.1 L133.9,127.9 L134.5,128.6 L135.2,129.3 L135.9,130.1 L136.6,130.8 L137.2,131.5 L137.9,132.2 L138.6,132.9 L139.3,133.6 L140.0,134.3 L140.7,135.0 L141.4,135.7 L142.2,136.4 L142.9,137.1 L143.6,137.7 L144.4,138.4 L145.1,139.1 L145.8,139.7 L146.6,140.4 L147.3,141.1 L148.1,141.7 L148.9,142.3 L149.6,143.0 L150.4,143.6 L151.2,144.3 L152.0,144.9 L152.7,145.5 L153.5,146.1 L154.3,146.7 L155.1,147.3 L155.9,148.0 L156.7,148.6 L157.5,149.2 L158.3,149.7 L159.2,150.3 L160.0,150.9 L160.8,151.5 L161.6,152.1 L162.4,152.6 L163.3,153.2 L164.1,153.8 L164.9,154.3 L165.8,154.9 L166.6,155.5 L167.4,156.0 L168.3,156.5 L169.1,157.1 L170.0,157.6 L170.8,158.2 L171.7,158.7 L172.5,159.2 L173.4,159.7 L174.2,160.3 L175.1,160.8 L176.0,161.3 L176.8,161.8 L177.7,162.3 L178.6,162.8 L179.4,163.3 L180.3,163.8 L181.2,164.3 L182.0,164.8 L182.9,165.2 L183.8,165.7 L184.7,166.2 L185.5,166.7 L186.4,167.1 L187.3,167.6 L188.2,168.1 L189.1,168.5 L189.9,169.0 L190.8,169.4 L191.7,169.9 L192.6,170.3 L193.5,170.8 L194.4,171.2 L195.3,171.6 L196.2,172.1 L197.1,172.5 L198.0,172.9 L198.9,173.3 L199.8,173.8 L200.7,174.2 L201.6,174.6 L202.5,175.0 L203.4,175.4 L204.3,175.8 L205.2,176.2 L206.1,176.6 L207.0,177.0 L208.0,177.4 L208.9,177.8 L209.8,178.2 L210.7,178.5 L211.6,178.9 L212.6,179.3 L213.5,179.7 L214.4,180.0 L215.3,180.4 L216.2,180.8 L217.2,181.1 L218.1,181.5 L219.0,181.9 L220.0,182.2 L220.9,182.6 L221.8,182.9 L222.8,183.3 L223.7,183.6 L224.6,183.9 L225.6,184.3 L226.5,184.6 L227.4,185.0 L228.4,185.3 L229.3,185.6 L230.3,185.9 L231.2,186.3 L232.1,186.6 L233.1,186.9 L234.0,187.2 L235.0,187.5 L235.9,187.8 L236.9,188.2 L237.8,188.5 L238.8,188.8 L239.7,189.1 L240.7,189.4 L241.6,189.7 L242.6,190.0 L243.6,190.3 L244.5,190.6 L245.5,190.8 L246.4,191.1 L247.4,191.4 L248.3,191.7 L249.3,192.0 L250.3,192.3 L251.2,192.5 L252.2,192.8 L253.2,193.1 L254.1,193.4 L255.1,193.6 L256.1,193.9 L257.0,194.2 L258.0,194.4 L259.0,194.7 L259.9,194.9 L260.9,195.2 L261.9,195.5 L262.8,195.7 L263.8,196.0 L264.8,196.2 L265.7,196.5 L266.7,196.7 L267.7,197.0 L268.7,197.2 L269.6,197.4 L270.6,197.7 L271.6,197.9 L272.6,198.2 L273.6,198.4 L274.5,198.6 L275.5,198.9 L276.5,199.1 L277.5,199.3 L278.4,199.6 L279.4,199.8 L280.4,200.0 L281.4,200.2 L282.4,200.5 L283.4,200.7 L284.3,200.9 L285.3,201.1 L286.3,201.3 L287.3,201.6 L288.3,201.8 L289.3,202.0 L290.2,202.2 L291.2,202.4 L292.2,202.6 L293.2,202.8 L294.2,203.0 L295.2,203.2 L296.2,203.4 L297.1,203.7 L298.1,203.9 L299.1,204.1 L300.1,204.3 L301.1,204.5 L302.1,204.7 L303.1,204.9 L304.1,205.1 L305.0,205.3 L306.0,205.5 L307.0,205.6 L308.0,205.8 L309.0,206.0 L310.0,206.2 L311.0,206.4 L312.0,206.6 L313.0,206.8 L313.9,207.0 L314.9,207.2 L315.9,207.4 L316.9,207.6 L317.9,207.7 L318.9,207.9 L319.9,208.1 L320.9,208.3 L321.9,208.5 L322.9,208.7 L323.8,208.9 L324.8,209.0 L325.8,209.2 L326.8,209.4 L327.8,209.6 L328.8,209.8 L329.8,210.0 L330.8,210.1 L331.8,210.3 L332.8,210.5 L333.7,210.7 L334.7,210.9 L335.7,211.0 L336.7,211.2 L337.7,211.4 L338.7,211.6 L339.7,211.8 L340.7,211.9 L341.6,212.1 L342.6,212.3 L343.6,212.5 L344.6,212.6 L345.6,212.8 L346.6,213.0 L347.6,213.2 L348.6,213.4 L349.5,213.5 L350.5,213.7 L351.5,213.9 L352.5,214.1 L353.5,214.2 L354.5,214.4 L355.4,214.6 L356.4,214.8 L357.4,215.0 L358.4,215.1 L359.4,215.3 L360.3,215.5 L361.3,215.7 L362.3,215.9 L363.3,216.0 L364.3,216.2 L365.2,216.4 L366.2,216.6 L367.2,216.8 L368.2,217.0 L369.2,217.1 L370.1,217.3 L371.1,217.5 L372.1,217.7 L373.1,217.9 L374.0,218.1 L375.0,218.2 L376.0,218.4 L376.9,218.6 L377.9,218.8 L378.9,219.0 L379.9,219.2 L380.8,219.4 L381.8,219.6 L382.8,219.8 L383.7,219.9 L384.7,220.1 L385.7,220.3 L386.6,220.5 L387.6,220.7 L388.5,220.9 L389.5,221.1 L390.5,221.3 L391.4,221.5 L392.4,221.7 L393.3,221.9 L394.5,222.2" stroke="#5000e0"/>
<path d="M110.9,95.0 L111.0,96.1 L111.1,97.1 L111.2,98.2 L111.4,99.2 L111.5,100.2 L111.7,101.3 L111.8,102.3 L112.0,103.3 L112.2,104.3 L112.4,105.3 L112.6,106.3 L112.8,107.3 L113.1,108.3 L113.3,109.3 L113.6,110.3 L113.9,111.3 L114.1,112.2 L114.4,113.2 L114.7,114.1 L115.0,115.1 L115.4,116.0 L115.7,117.0 L116.0,117.9 L116.4,118.9 L116.7,119.8 L117.1,120.7 L117.5,121.6 L117.9,122.5 L118.3,123.4 L118.7,124.3 L119.1,125.2 L119.6,126.1 L120.0,127.0 L120.4,127.9 L120.9,128.7 L121.4,129.6 L121.8,130.4 L122.3,131.3 L122.8,132.1 L123.3,133.0 L123.8,133.8 L124.3,134.7 L124.9,135.5 L125.4,136.3 L125.9,137.1 L126.5,137.9 L127.0,138.7 L127.6,139.5 L128.2,140.3 L128.8,141.1 L129.4,141.9 L129.9,142.7 L130.5,143.4 L131.2,144.2 L131.8,145.0 L132.4,145.7 L133.0,146.5 L133.7,147.2 L134.3,148.0 L135.0,148.7 L135.6,149.4 L136.3,150.2 L136.9,150.9 L137.6,151.6 L138.3,152.3 L139.0,153.0 L139.7,153.7 L140.4,154.4 L141.1,155.1 L141.8,155.8 L142.5,156.5 L143.2,157.1 L144.0,157.8 L144.7,158.5 L145.4,159.1 L146.2,159.8 L146.9,160.4 L147.7,161.1 L148.4,161.7 L149.2,162.4 L149.9,163.0 L150.7,163.6 L151.5,164.3 L152.3,164.9 L153.0,165.5 L153.8,166.1 L154.6,166.7 L155.4,167.3 L156.2,167.9 L157.0,168.5 L157.8,169.1 L158.6,169.6 L159.4,170.2 L160.3,170.8 L161.1,171.4 L161.9,171.9 L162.7,172.5 L163.5,173.0 L164.4,173.6 L165.2,174.1 L166.0,174.7 L166.9,175.2 L167.7,175.7 L168.6,176.3 L169.4,176.8 L170.2,177.3 L171.1,177.8 L171.9,178.3 L172.8,178.8 L173.7,179.3 L174.5,179.8 L175.4,180.3 L176.2,180.8 L177.1,181.3 L178.0,181.8 L178.8,182.3 L179.7,182.7 L180.6,183.2 L181.4,183.7 L182.3,184.2 L183.2,184.6 L184.1,185.1 L185.0,185.5 L185.8,186.0 L186.7,186.4 L187.6,186.9 L188.5,187.3 L189.4,187.7 L190.3,188.2 L191.2,188.6 L192.1,189.0 L193.0,189.4 L193.9,189.9 L194.8,190.3 L195.7,190.7 L196.6,191.1 L197.5,191.5 L198.4,191.9 L199.3,192.3 L200.2,192.7 L201.2,193.1 L202.1,193.5 L203.0,193.9 L203.9,194.3 L204.8,194.7 L205.8,195.1 L206.7,195.4 L207.6,195.8 L208.5,196.2 L209.5,196.6 L210.4,196.9 L211.3,197.3 L212.2,197.7 L213.2,198.0 L214.1,198.4 L215.1,198.7 L216.0,199.1 L216.9,199.4 L217.9,199.8 L218.8,200.1 L219.8,200.5 L220.7,200.8 L221.6,201.2 L222.6,201.5 L223.5,201.8 L224.5,202.2 L225.4,202.5 L226.4,202.8 L227.3,203.1 L228.3,203.5 L229.2,203.8 L230.2,204.1 L231.1,204.4 L232.1,204.7 L233.1,205.1 L234.0,205.4 L235.0,205.7 L235.9,206.0 L236.9,206.3 L237.9,206.6 L238.8,206.9 L239.8,207.2 L240.8,207.5 L241.7,207.8 L242.7,208.1 L243.7,208.4 L244.6,208.7 L245.6,209.0 L246.6,209.2 L247.5,209.5 L248.5,209.8 L249.5,210.1 L250.4,210.4 L251.4,210.7 L252.4,210.9 L253.4,211.2 L254.3,211.5 L255.3,211.8 L256.3,212.0 L257.3,212.3 L258.2,212.6 L259.2,212.8 L260.2,213.1 L261.2,213.4 L262.1,213.6 L263.1,213.9 L264.1,214.1 L265.1,214.4 L266.0,214.7 L267.0,214.9 L268.0,215.2 L269.0,215.4 L270.0,215.7 L270.9,215.9 L271.9,216.2 L272.9,216.4 L273.9,216.7 L274.9,216.9 L275.8,217.2 L276.8,217.4 L277.8,217.6 L278.8,217.9 L279.8,218.1 L280.7,218.4 L281.7,218.6 L282.7,218.8 L283.7,219.1 L284.7,219.3 L285.6,219.5 L286.6,219.8 L287.6,220.0 L288.6,220.2 L289.6,220.5 L290.5,220.7 L291.5,220.9 L292.5,221.2 L293.5,221.4 L294.4,221.6 L295.4,221.8 L296.4,222.1 L297.4,222.3 L298.4,222.5 L299.3,222.7 L300.3,223.0 L301.3,223.2 L302.3,223.4 L303.2,223.6 L304.2,223.9 L305.2,224.1 L306.2,224.3 L307.1,224.5 L308.1,224.7 L309.1,225.0 L310.0,225.2 L311.0,225.4 L312.0,225.6 L312.9,225.8 L313.9,226.1 L314.9,226.3 L315.8,226.5 L316.8,226.7 L317.8,226.9 L318.7,227.2 L319.7,227.4 L320.7,227.6 L321.6,227.8 L322.6,228.0 L323.6,228.2 L324.5,228.5 L325.5,228.7 L326.4,228.9 L327.4,229.1 L328.3,229.3 L329.3,229.5 L330.3,229.8 L331.2,230.0 L332.2,230.2 L333.1,230.4 L334.1,230.6 L335.0,230.9 L335.9,231.1 L336.9,231.3 L337.8,231.5 L338.8,231.7 L339.7,232.0 L340.7,232.2 L341.6,232.4 L342.5,232.6 L343.5,232.8 L344.4,233.1 L344.7,233.1" stroke="#ff9000"/>
<path d="M111.0,107.1 L111.1,108.1 L111.3,109.1 L111.4,110.1 L111.6,111.1 L111.8,112.0 L112.0,113.0 L112.2,114.0 L112.4,115.0 L112.6,116.0 L112.9,116.9 L113.1,117.9 L113.4,118.9 L113.7,119.8 L113.9,120.8 L114.2,121.8 L114.5,122.7 L114.8,123.7 L115.1,124.6 L115.4,125.6 L115.8,126.5 L116.1,127.4 L116.5,128.4 L116.8,129.3 L117.2,130.2 L117.6,131.2 L118.0,132.1 L118.4,133.0 L118.8,133.9 L119.2,134.8 L119.6,135.7 L120.0,136.6 L120.5,137.5 L120.9,138.4 L121.3,139.3 L121.8,140.2 L122.3,141.1 L122.7,142.0 L123.2,142.8 L123.7,143.7 L124.2,144.6 L124.7,145.4 L125.2,146.3 L125.8,147.1 L126.3,148.0 L126.8,148.8 L127.4,149.6 L127.9,150.5 L128.5,151.3 L129.0,152.1 L129.6,152.9 L130.2,153.7 L130.8,154.5 L131.4,155.3 L132.0,156.1 L132.6,156.9 L133.2,157.6 L133.8,158.4 L134.4,159.2 L135.0,159.9 L135.7,160.7 L136.3,161.4 L137.0,162.2 L137.6,162.9 L138.3,163.6 L138.9,164.4 L139.6,165.1 L140.3,165.8 L141.0,166.5 L141.7,167.2 L142.3,167.9 L143.0,168.6 L143.7,169.2 L144.5,169.9 L145.2,170.6 L145.9,171.2 L146.6,171.9 L147.3,172.5 L148.1,173.2 L148.8,173.8 L149.5,174.5 L150.3,175.1 L151.0,175.7 L151.8,176.3 L152.6,176.9 L153.3,177.5 L154.1,178.1 L154.9,178.7 L155.6,179.3 L156.4,179.9 L157.2,180.5 L158.0,181.0 L158.8,181.6 L159.6,182.1 L160.4,182.7 L161.2,183.2 L162.0,183.8 L162.8,184.3 L163.6,184.9 L164.4,185.4 L165.3,185.9 L166.1,186.4 L166.9,186.9 L167.8,187.5 L168.6,188.0 L169.4,188.5 L170.3,189.0 L171.1,189.5 L172.0,189.9 L172.8,190.4 L173.7,190.9 L174.6,191.4 L175.4,191.9 L176.3,192.3 L177.2,192.8 L178.0,193.2 L178.9,193.7 L179.8,194.2 L180.7,194.6 L181.6,195.1 L182.4,195.5 L183.3,195.9 L184.2,196.4 L185.1,196.8 L186.0,197.2 L186.9,197.7 L187.8,198.1 L188.7,198.5 L189.6,198.9 L190.5,199.3 L191.4,199.7 L192.4,200.1 L193.3,200.6 L194.2,201.0 L195.1,201.4 L196.0,201.8 L197.0,202.2 L197.9,202.5 L198.8,202.9 L199.7,203.3 L200.7,203.7 L201.6,204.1 L202.5,204.5 L203.5,204.9 L204.4,205.2 L205.4,205.6 L206.3,206.0 L207.3,206.4 L208.2,206.7 L209.1,207.1 L210.1,207.5 L211.0,207.8 L212.0,208.2 L212.9,208.6 L213.9,208.9 L214.8,209.3 L215.8,209.7 L216.8,210.0 L217.7,210.4 L218.7,210.7 L219.6,211.1 L220.6,211.4 L221.5,211.8 L222.5,212.1 L223.5,212.4 L224.4,212.8 L225.4,213.1 L226.4,213.5 L227.3,213.8 L228.3,214.1 L229.3,214.5 L230.2,214.8 L231.2,215.1 L232.2,215.5 L233.1,215.8 L234.1,216.1 L235.1,216.5 L236.0,216.8 L237.0,217.1 L238.0,217.4 L238.9,217.7 L239.9,218.1 L240.9,218.4 L241.8,218.7 L242.8,219.0 L243.8,219.3 L244.7,219.6 L245.7,219.9 L246.6,220.2 L247.6,220.6 L248.6,220.9 L249.5,221.2 L250.5,221.5 L251.5,221.8 L252.4,222.1 L253.4,222.4 L254.3,222.7 L255.3,223.0 L256.3,223.3 L257.2,223.6 L258.2,223.9 L259.1,224.1 L260.1,224.4 L261.0,224.7 L262.0,225.0 L263.0,225.3 L263.9,225.6 L264.8,225.9 L265.8,226.2 L266.7,226.5 L267.7,226.7 L268.6,227.0 L269.6,227.3 L270.5,227.6 L271.5,227.9 L272.4,228.1 L273.3,228.4 L274.3,228.7 L275.2,229.0 L276.1,229.2 L277.0,229.5 L278.0,229.8 L278.9,230.1 L279.8,230.3 L280.7,230.6 L281.7,230.9 L282.6,231.2 L283.5,231.4 L284.4,231.7 L285.3,232.0 L286.2,232.2 L287.1,232.5 L288.0,232.8 L288.5,232.9" stroke="#300038"/>
<path d="M111.1,121.9 L111.3,122.9 L111.5,123.9 L111.7,124.9 L112.0,125.9 L112.2,126.9 L112.5,127.9 L112.7,128.9 L113.0,129.8 L113.3,130.8 L113.6,131.8 L113.9,132.8 L114.2,133.7 L114.5,134.7 L114.8,135.7 L115.2,136.6 L115.5,137.6 L115.9,138.5 L116.2,139.5 L116.6,140.4 L116.9,141.3 L117.3,142.3 L117.7,143.2 L118.1,144.1 L118.5,145.0 L118.9,145.9 L119.4,146.8 L119.8,147.8 L120.2,148.7 L120.7,149.5 L121.1,150.4 L121.6,151.3 L122.1,152.2 L122.5,153.1 L123.0,154.0 L123.5,154.8 L124.0,155.7 L124.5,156.5 L125.0,157.4 L125.5,158.2 L126.0,159.1 L126.6,159.9 L127.1,160.8 L127.7,161.6 L128.2,162.4 L128.8,163.2 L129.3,164.0 L129.9,164.9 L130.5,165.7 L131.1,166.5 L131.7,167.3 L132.3,168.0 L132.9,168.8 L133.5,169.6 L134.1,170.4 L134.7,171.2 L135.3,171.9 L136.0,172.7 L136.6,173.4 L137.3,174.2 L137.9,174.9 L138.6,175.7 L139.2,176.4 L139.9,177.1 L140.6,177.9 L141.2,178.6 L141.9,179.3 L142.6,180.0 L143.3,180.7 L144.0,181.4 L144.7,182.1 L145.4,182.8 L146.1,183.5 L146.9,184.1 L147.6,184.8 L148.3,185.5 L149.1,186.1 L149.8,186.8 L150.5,187.4 L151.3,188.1 L152.1,188.7 L152.8,189.3 L153.6,190.0 L154.3,190.6 L155.1,191.2 L155.9,191.8 L156.7,192.4 L157.5,193.0 L158.3,193.6 L159.0,194.2 L159.8,194.8 L160.6,195.3 L161.5,195.9 L162.3,196.5 L163.1,197.0 L163.9,197.6 L164.7,198.1 L165.5,198.7 L166.4,199.2 L167.2,199.8 L168.0,200.3 L168.9,200.8 L169.7,201.3 L170.6,201.8 L171.4,202.3 L172.3,202.8 L173.1,203.3 L174.0,203.8 L174.8,204.3 L175.7,204.8 L176.6,205.3 L177.4,205.8 L178.3,206.2 L179.2,206.7 L180.1,207.2 L180.9,207.6 L181.8,208.1 L182.7,208.5 L183.6,209.0 L184.5,209.4 L185.4,209.9 L186.3,210.3 L187.2,210.8 L188.1,211.2 L189.0,211.6 L189.9,212.0 L190.8,212.5 L191.7,212.9 L192.6,213.3 L193.5,213.7 L194.4,214.1 L195.3,214.5 L196.3,214.9 L197.2,215.3 L198.1,215.7 L199.0,216.1 L199.9,216.5 L200.9,216.9 L201.8,217.3 L202.7,217.7 L203.6,218.1 L204.6,218.5 L205.5,218.8 L206.4,219.2 L207.4,219.6 L208.3,220.0 L209.2,220.4 L210.1,220.7 L211.1,221.1 L212.0,221.5 L213.0,221.8 L213.9,222.2 L214.8,222.6 L215.8,222.9 L216.7,223.3 L217.6,223.6 L218.6,224.0 L219.5,224.4 L220.4,224.7 L221.4,225.1 L222.3,225.4 L223.3,225.8 L224.2,226.1 L225.1,226.5 L226.1,226.8 L227.0,227.2 L227.9,227.5 L228.9,227.9 L229.8,228.2 L230.8,228.6 L231.7,228.9 L232.6,229.3 L233.6,229.6 L234.5,230.0 L235.4,230.3 L236.4,230.7 L237.3,231.0 L238.2,231.4 L239.1,231.7 L240.1,232.1 L241.0,232.5 L241.9,232.8 L242.8,233.1" stroke="#ff2000"/>
<path d="M111.1,138.7 L111.6,139.6 L112.1,140.4 L112.6,141.3 L113.0,142.1 L113.5,143.0 L114.0,143.9 L114.5,144.7 L114.9,145.6 L115.4,146.5 L115.9,147.4 L116.3,148.2 L116.8,149.1 L117.3,150.0 L117.7,150.9 L118.2,151.8 L118.7,152.7 L119.1,153.6 L119.6,154.5 L120.1,155.4 L120.5,156.3 L121.0,157.2 L121.5,158.1 L121.9,159.0 L122.4,159.9 L122.9,160.8 L123.3,161.7 L123.8,162.6 L124.3,163.4 L124.7,164.3 L125.2,165.2 L125.7,166.1 L126.2,167.0 L126.7,167.9 L127.1,168.8 L127.6,169.6 L128.1,170.5 L128.6,171.4 L129.1,172.3 L129.6,173.1 L130.1,174.0 L130.6,174.8 L131.1,175.7 L131.6,176.5 L132.2,177.4 L132.7,178.2 L133.2,179.0 L133.7,179.9 L134.3,180.7 L134.8,181.5 L135.3,182.3 L135.9,183.1 L136.4,183.9 L137.0,184.7 L137.6,185.4 L138.1,186.2 L138.7,187.0 L139.3,187.7 L139.9,188.4 L140.5,189.1 L141.1,189.9 L141.7,190.5 L142.3,191.2 L142.9,191.9 L143.6,192.5 L144.2,193.2 L144.8,193.8 L145.5,194.4 L146.1,195.1 L146.8,195.7 L147.5,196.3 L148.2,196.9 L148.8,197.5 L149.5,198.1 L150.2,198.8 L151.0,199.4 L151.7,200.0 L152.4,200.6 L153.1,201.2 L153.9,201.8 L154.7,202.3 L155.4,202.9 L156.2,203.5 L157.0,204.1 L157.8,204.7 L158.6,205.3 L159.4,205.8 L160.2,206.4 L161.0,206.9 L161.9,207.5 L162.7,208.0 L163.5,208.6 L164.4,209.1 L165.2,209.6 L166.1,210.1 L166.9,210.6 L167.7,211.0 L168.6,211.5 L169.4,212.0 L170.2,212.4 L171.1,212.9 L171.9,213.3 L172.7,213.8 L173.5,214.3 L174.3,214.7 L175.1,215.2 L175.9,215.7 L176.6,216.1 L177.4,216.6 L178.2,217.1 L178.9,217.6 L179.7,218.1 L180.5,218.6 L181.3,219.0 L182.1,219.5 L182.9,220.0 L183.7,220.5 L184.5,220.9 L185.4,221.4 L186.2,221.8 L187.1,222.3 L188.0,222.7 L188.9,223.1 L189.8,223.5 L190.7,223.9 L191.6,224.3 L192.5,224.7 L193.5,225.1 L194.4,225.5 L195.3,225.9 L196.3,226.3 L197.2,226.6 L198.2,227.0 L199.1,227.4 L200.1,227.8 L201.0,228.2 L201.9,228.6 L202.9,229.0 L203.8,229.5 L204.7,229.9 L205.6,230.4 L206.5,230.8 L207.4,231.3 L208.2,231.8 L209.1,232.3 L209.9,232.8 L210.4,233.2" stroke="#00f000"/>
<path d="M112.0,157.7 L112.7,158.6 L113.3,159.4 L113.9,160.2 L114.5,161.1 L115.1,161.9 L115.7,162.7 L116.2,163.5 L116.8,164.4 L117.4,165.2 L118.0,166.0 L118.5,166.9 L119.1,167.7 L119.7,168.5 L120.2,169.4 L120.8,170.2 L121.3,171.0 L121.9,171.9 L122.5,172.7 L123.0,173.5 L123.5,174.3 L124.1,175.2 L124.6,176.0 L125.2,176.8 L125.7,177.6 L126.3,178.5 L126.8,179.3 L127.4,180.1 L127.9,180.9 L128.4,181.7 L129.0,182.6 L129.5,183.4 L130.1,184.2 L130.6,185.0 L131.2,185.8 L131.7,186.6 L132.3,187.4 L132.9,188.2 L133.4,189.0 L134.0,189.8 L134.5,190.6 L135.1,191.4 L135.7,192.2 L136.3,193.0 L136.8,193.8 L137.4,194.6 L138.0,195.3 L138.6,196.1 L139.2,196.9 L139.8,197.7 L140.4,198.4 L141.0,199.2 L141.7,200.0 L142.3,200.7 L142.9,201.5 L143.6,202.2 L144.2,203.0 L144.9,203.7 L145.5,204.5 L146.2,205.2 L146.9,205.9 L147.5,206.6 L148.2,207.4 L148.9,208.1 L149.6,208.8 L150.4,209.5 L151.1,210.2 L151.8,210.9 L152.5,211.6 L153.3,212.3 L154.0,213.0 L154.8,213.7 L155.5,214.4 L156.3,215.0 L157.1,215.7 L157.9,216.4 L158.6,217.0 L159.4,217.7 L160.2,218.3 L161.0,219.0 L161.8,219.6 L162.6,220.2 L163.4,220.8 L164.2,221.5 L165.0,222.1 L165.8,222.7 L166.7,223.3 L167.5,223.9 L168.3,224.5 L169.1,225.0 L170.0,225.6 L170.8,226.2 L171.6,226.7 L172.4,227.3 L173.3,227.8 L174.1,228.4 L174.9,228.9 L175.8,229.4 L176.6,230.0 L177.4,230.5 L178.3,231.0 L179.1,231.5 L180.0,232.0 L180.8,232.5 L181.6,232.9" stroke="#00e8ff"/>
</g></defs>
<clipPath id="pa"><rect x="0" y="0" width="396" height="235"/></clipPath>
<use href="#cv" stroke-width="3" clip-path="url(#pa)" shape-rendering="crispEdges"/>
<g>
<g fill="#ff2000" stroke="#ff2000"><text x="69.3" y="22.2" textLength="22.0" lengthAdjust="spacingAndGlyphs">0.570</text><text x="94.2" y="22.2" textLength="21.2" lengthAdjust="spacingAndGlyphs">Msun</text></g>
<g fill="#00f000" stroke="#00f000"><text x="69.3" y="32.4" textLength="22.0" lengthAdjust="spacingAndGlyphs">0.500</text><text x="94.2" y="32.4" textLength="21.2" lengthAdjust="spacingAndGlyphs">Msun</text></g>
<g fill="#ffc000" stroke="#ffc000"><text x="69.3" y="40.6" textLength="22.0" lengthAdjust="spacingAndGlyphs">0.450</text><text x="94.2" y="40.6" textLength="21.2" lengthAdjust="spacingAndGlyphs">Msun</text></g>
<g fill="#00e8ff" stroke="#00e8ff"><text x="69.3" y="49.1" textLength="22.0" lengthAdjust="spacingAndGlyphs">0.400</text><text x="94.2" y="49.1" textLength="21.2" lengthAdjust="spacingAndGlyphs">Msun</text></g>
<g fill="#ff9000" stroke="#ff9000"><text x="69.3" y="60.3" textLength="22.0" lengthAdjust="spacingAndGlyphs">0.350</text><text x="94.2" y="60.3" textLength="21.2" lengthAdjust="spacingAndGlyphs">Msun</text></g>
<g fill="#0070ff" stroke="#0070ff"><text x="69.3" y="71.8" textLength="22.0" lengthAdjust="spacingAndGlyphs">0.300</text><text x="94.2" y="71.8" textLength="21.2" lengthAdjust="spacingAndGlyphs">Msun</text></g>
<g fill="#5000e0" stroke="#5000e0"><text x="69.3" y="84.1" textLength="22.0" lengthAdjust="spacingAndGlyphs">0.250</text><text x="94.2" y="84.1" textLength="21.2" lengthAdjust="spacingAndGlyphs">Msun</text></g>
<g fill="#ff9000" stroke="#ff9000"><text x="69.3" y="98.4" textLength="22.0" lengthAdjust="spacingAndGlyphs">0.200</text><text x="94.2" y="98.4" textLength="21.2" lengthAdjust="spacingAndGlyphs">Msun</text></g>
<g fill="#300038" stroke="#300038"><text x="69.3" y="109.2" textLength="22.0" lengthAdjust="spacingAndGlyphs">0.175</text><text x="94.2" y="109.2" textLength="21.2" lengthAdjust="spacingAndGlyphs">Msun</text></g>
<g fill="#ff2000" stroke="#ff2000"><text x="69.3" y="124.3" textLength="22.0" lengthAdjust="spacingAndGlyphs">0.150</text><text x="94.2" y="124.3" textLength="21.2" lengthAdjust="spacingAndGlyphs">Msun</text></g>
<g fill="#00f000" stroke="#00f000"><text x="69.3" y="139.9" textLength="22.0" lengthAdjust="spacingAndGlyphs">0.130</text><text x="94.2" y="139.9" textLength="21.2" lengthAdjust="spacingAndGlyphs">Msun</text></g>
<g fill="#00e8ff" stroke="#00e8ff"><text x="69.3" y="158.6" textLength="22.0" lengthAdjust="spacingAndGlyphs">0.110</text><text x="94.2" y="158.6" textLength="21.2" lengthAdjust="spacingAndGlyphs">Msun</text></g>
</g>
<rect x="130.0" y="146.4" width="204.0" height="35.9" fill="#ffff00"/>
<rect x="130.25" y="146.65" width="203.5" height="35.4" fill="none" stroke="#000" stroke-opacity="0.45" stroke-width="0.5"/>
<use href="#cv" stroke-width="1.3" clip-path="url(#bx)"/>
<g stroke="#000" stroke-width="0.8" stroke-opacity="0.85" fill="none">
<path d="M191.4,146.4 V182.3"/>
<path d="M187,160 L195.8,168.8 M195.8,160 L187,168.8"/>
</g>
</svg>
</body></html>
